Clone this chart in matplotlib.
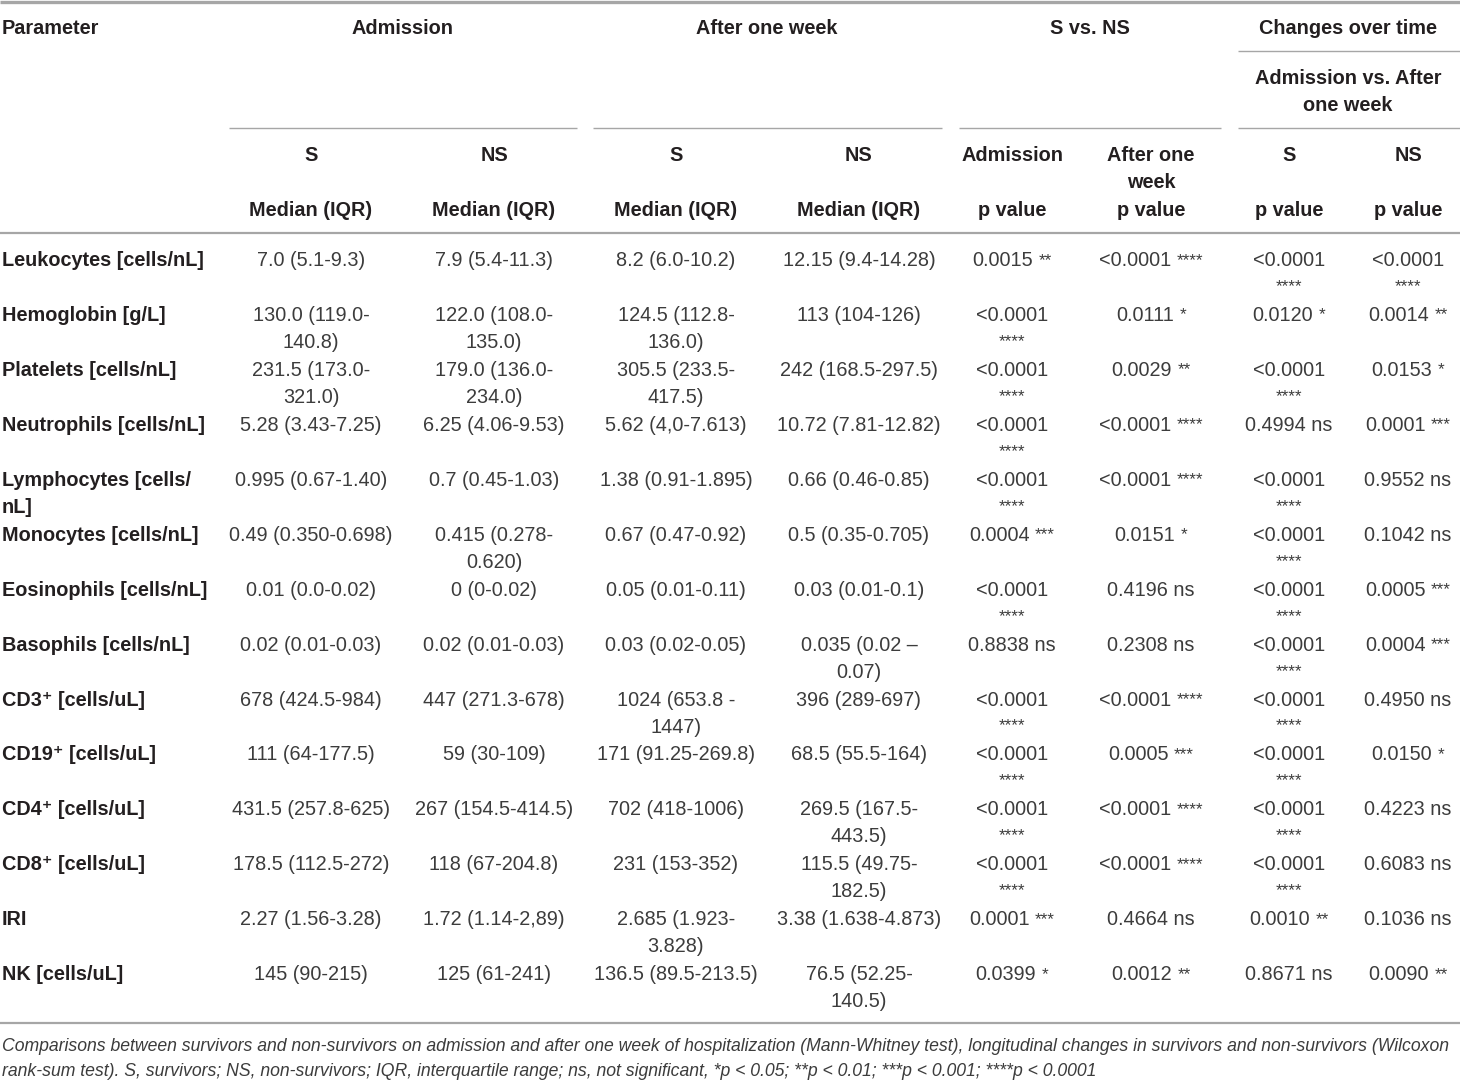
import re
import matplotlib
matplotlib.use("Agg")
import matplotlib.pyplot as plt

# ---------------- data ----------------
group_labels = ["Admission", "After one week", "S vs. NS", "Changes over time"]
sub_group_label = "Admission vs. After\none week"
col_heads_1 = ["S", "NS", "S", "NS", "Admission", "After one\nweek", "S", "NS"]
col_heads_2 = ["Median (IQR)", "Median (IQR)", "Median (IQR)", "Median (IQR)",
               "p value", "p value", "p value", "p value"]

parameters = ["Leukocytes [cells/nL]", "Hemoglobin [g/L]", "Platelets [cells/nL]",
              "Neutrophils [cells/nL]", "Lymphocytes [cells/\nnL]", "Monocytes [cells/nL]",
              "Eosinophils [cells/nL]", "Basophils [cells/nL]", "CD3\u207a [cells/uL]",
              "CD19\u207a [cells/uL]", "CD4\u207a [cells/uL]", "CD8\u207a [cells/uL]",
              "IRI", "NK [cells/uL]"]

adm_s = ["7.0 (5.1-9.3)", "130.0 (119.0-\n140.8)", "231.5 (173.0-\n321.0)", "5.28 (3.43-7.25)",
         "0.995 (0.67-1.40)", "0.49 (0.350-0.698)", "0.01 (0.0-0.02)", "0.02 (0.01-0.03)",
         "678 (424.5-984)", "111 (64-177.5)", "431.5 (257.8-625)", "178.5 (112.5-272)",
         "2.27 (1.56-3.28)", "145 (90-215)"]
adm_ns = ["7.9 (5.4-11.3)", "122.0 (108.0-\n135.0)", "179.0 (136.0-\n234.0)", "6.25 (4.06-9.53)",
          "0.7 (0.45-1.03)", "0.415 (0.278-\n0.620)", "0 (0-0.02)", "0.02 (0.01-0.03)",
          "447 (271.3-678)", "59 (30-109)", "267 (154.5-414.5)", "118 (67-204.8)",
          "1.72 (1.14-2,89)", "125 (61-241)"]
week_s = ["8.2 (6.0-10.2)", "124.5 (112.8-\n136.0)", "305.5 (233.5-\n417.5)", "5.62 (4,0-7.613)",
          "1.38 (0.91-1.895)", "0.67 (0.47-0.92)", "0.05 (0.01-0.11)", "0.03 (0.02-0.05)",
          "1024 (653.8 -\n1447)", "171 (91.25-269.8)", "702 (418-1006)", "231 (153-352)",
          "2.685 (1.923-\n3.828)", "136.5 (89.5-213.5)"]
week_ns = ["12.15 (9.4-14.28)", "113 (104-126)", "242 (168.5-297.5)", "10.72 (7.81-12.82)",
           "0.66 (0.46-0.85)", "0.5 (0.35-0.705)", "0.03 (0.01-0.1)", "0.035 (0.02 \u2013\n0.07)",
           "396 (289-697)", "68.5 (55.5-164)", "269.5 (167.5-\n443.5)", "115.5 (49.75-\n182.5)",
           "3.38 (1.638-4.873)", "76.5 (52.25-\n140.5)"]
p_adm = ["0.0015 **", "<0.0001\n****", "<0.0001\n****", "<0.0001\n****", "<0.0001\n****",
         "0.0004 ***", "<0.0001\n****", "0.8838 ns", "<0.0001\n****", "<0.0001\n****",
         "<0.0001\n****", "<0.0001\n****", "0.0001 ***", "0.0399 *"]
p_week = ["<0.0001 ****", "0.0111 *", "0.0029 **", "<0.0001 ****", "<0.0001 ****", "0.0151 *",
          "0.4196 ns", "0.2308 ns", "<0.0001 ****", "0.0005 ***", "<0.0001 ****",
          "<0.0001 ****", "0.4664 ns", "0.0012 **"]
p_chg_s = ["<0.0001\n****", "0.0120 *", "<0.0001\n****", "0.4994 ns", "<0.0001\n****",
           "<0.0001\n****", "<0.0001\n****", "<0.0001\n****", "<0.0001\n****", "<0.0001\n****",
           "<0.0001\n****", "<0.0001\n****", "0.0010 **", "0.8671 ns"]
p_chg_ns = ["<0.0001\n****", "0.0014 **", "0.0153 *", "0.0001 ***", "0.9552 ns", "0.1042 ns",
            "0.0005 ***", "0.0004 ***", "0.4950 ns", "0.0150 *", "0.4223 ns", "0.6083 ns",
            "0.1036 ns", "0.0090 **"]

footnote = ["Comparisons between survivors and non-survivors on admission and after one week of hospitalization (Mann-Whitney test), longitudinal changes in survivors and non-survivors (Wilcoxon",
            "rank-sum test). S, survivors; NS, non-survivors; IQR, interquartile range; ns, not significant, *p < 0.05; **p < 0.01; ***p < 0.001; ****p < 0.0001"]

# ---------------- layout ----------------
W, H = 1460, 1080
FAM = ["Liberation Sans", "DejaVu Sans"]
FS = 14.3
STAR_FS = 12.3
LINE_H = 27
HEAD_C = "#231f20"
BODY_C = "#3c3c3c"
RULE_C = "#a6a6a6"
col_x = [311, 494, 676, 859, 1012, 1151, 1289, 1408]
row_y0, row_dy = 259, 54.92
CAP = 7.2  # half cap height in px (center -> baseline)

fig = plt.figure(figsize=(W / 100, H / 100), dpi=100)
ax = fig.add_axes([0, 0, 1, 1])
ax.set_xlim(0, W)
ax.set_ylim(H, 0)
ax.axis("off")
renderer = fig.canvas.get_renderer()


def width_of(s, **kw):
    t = ax.text(0, 0, s, fontfamily=FAM, **kw)
    w = t.get_window_extent(renderer=renderer).width
    t.remove()
    return w


def put(x, yc, s, bold=False, ha="center", color=None, size=FS, style="normal"):
    color = color or (HEAD_C if bold else BODY_C)
    for i, line in enumerate(s.split("\n")):
        yb = yc + CAP + i * LINE_H
        m = re.match(r"^(.*?)\s*(\*+)$", line)
        if m is None:
            ax.text(x, yb, line, ha=ha, va="baseline", fontsize=size, color=color,
                    fontweight="bold" if bold else "normal", fontfamily=FAM, fontstyle=style)
            continue
        main, stars = m.group(1), m.group(2)
        if main == "":
            ax.text(x, yb - 2, stars, ha="center", va="baseline", fontsize=STAR_FS,
                    color=color, fontfamily=FAM)
            continue
        w1 = width_of(main, fontsize=size)
        w2 = width_of(stars, fontsize=STAR_FS)
        gap = 0.28 * size * 100 / 72
        x0 = x - (w1 + gap + w2) / 2
        ax.text(x0, yb, main, ha="left", va="baseline", fontsize=size, color=color,
                fontfamily=FAM)
        ax.text(x0 + w1 + gap, yb - 1.5, stars, ha="left", va="baseline",
                fontsize=STAR_FS, color=color, fontfamily=FAM)


def rule(y, x0, x1, lw):
    ax.plot([x0, x1], [y, y], color=RULE_C, lw=lw, solid_capstyle="butt")


# rules
rule(1.5, 0, W, 2.4)
rule(51, 1238, W, 1.0)
for x0, x1 in [(229, 577), (593, 942), (959, 1221), (1238, W)]:
    rule(128, x0, x1, 1.0)
rule(233, 0, W, 1.6)
rule(1023, 0, W, 1.6)

# header
put(2, 27, "Parameter", bold=True, ha="left")
for lab, xc in zip(group_labels, [403, 767, 1090, 1348]):
    put(xc, 27, lab, bold=True)
put(1348, 77, sub_group_label, bold=True)
for lab, xc in zip(col_heads_1, col_x):
    put(xc, 154, lab, bold=True)
for lab, xc in zip(col_heads_2, col_x):
    put(xc, 209, lab, bold=True)

# body
columns = [adm_s, adm_ns, week_s, week_ns, p_adm, p_week, p_chg_s, p_chg_ns]
for i, name in enumerate(parameters):
    yc = row_y0 + i * row_dy
    put(2, yc, name, bold=True, ha="left")
    for xc, col in zip(col_x, columns):
        put(xc, yc, col[i])

# footnote
for i, line in enumerate(footnote):
    ax.text(2, 1045 + CAP - 1 + i * 25, line, ha="left", va="baseline", fontsize=12.68,
            color=BODY_C, fontfamily=FAM, fontstyle="italic")

fig.savefig("out.png", dpi=100)
